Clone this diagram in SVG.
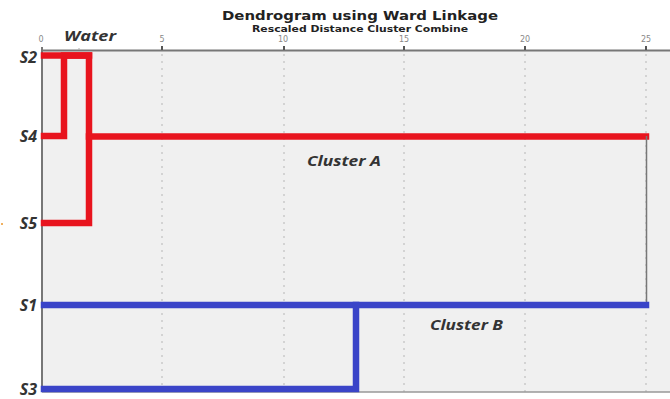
<svg xmlns="http://www.w3.org/2000/svg" width="670" height="399" viewBox="0 0 670 399">
  <style>
    .title { font-family: "DejaVu Sans", "Liberation Sans", sans-serif; font-weight: bold; fill: #222; }
    .tick { font-family: "DejaVu Sans", sans-serif; font-size: 8px; fill: #888; text-anchor: middle; }
    .lbl { font-family: "Open Sans", "Liberation Sans", sans-serif; font-weight: bold; font-style: italic; font-size: 14px; fill: #333; }
    .leaf { text-anchor: end; font-size: 16px; }
    .grid { stroke: #c4c4c4; stroke-width: 1.3; stroke-dasharray: 2 5; }
    .red { fill: none; stroke: #e8141e; stroke-width: 6.5; stroke-linejoin: miter; stroke-linecap: square; }
    .blue { fill: none; stroke: #3a44c8; stroke-width: 6.5; stroke-linejoin: miter; stroke-linecap: square; }
  </style>

  <rect width="670" height="399" fill="#ffffff"/>
  <!-- plot area -->
  <rect x="42" y="50" width="628" height="342" fill="#f0f0f0"/>

  <!-- gridlines -->
  <g id="grid">
    <line class="grid" x1="162" y1="54" x2="162" y2="392"/>
    <line class="grid" x1="284" y1="54" x2="284" y2="392"/>
    <line class="grid" x1="404" y1="54" x2="404" y2="392"/>
    <line class="grid" x1="525" y1="54" x2="525" y2="392"/>
    <line class="grid" x1="646" y1="54" x2="646" y2="392"/>
  </g>

  <!-- axes -->
  <g id="axes" stroke="#777" stroke-width="2">
    <line x1="42" y1="50.5" x2="670" y2="50.5"/>
    <line x1="42" y1="47" x2="42" y2="392"/>
    <line x1="42" y1="392" x2="670" y2="392" stroke="#999" stroke-width="1.5"/>
    <line x1="162" y1="46" x2="162" y2="50" stroke="#555"/>
    <line x1="284" y1="46" x2="284" y2="50" stroke="#555"/>
    <line x1="404" y1="46" x2="404" y2="50" stroke="#555"/>
    <line x1="525" y1="46" x2="525" y2="50" stroke="#555"/>
    <line x1="646" y1="46" x2="646" y2="50" stroke="#555"/>
    <line x1="79" y1="48" x2="79" y2="50" stroke="#aaa" stroke-width="1"/>
  </g>
  <g id="tick-labels">
    <text class="tick" x="41" y="42">0</text>
    <text class="tick" x="162" y="42">5</text>
    <text class="tick" x="283" y="42">10</text>
    <text class="tick" x="404" y="42">15</text>
    <text class="tick" x="525" y="42">20</text>
    <text class="tick" x="646" y="42">25</text>
  </g>

  <!-- titles -->
  <text class="title" x="360" y="20" font-size="12.5" text-anchor="middle" textLength="276" lengthAdjust="spacingAndGlyphs">Dendrogram using Ward Linkage</text>
  <text class="title" x="360" y="32" font-size="8" text-anchor="middle" textLength="216" lengthAdjust="spacingAndGlyphs">Rescaled Distance Cluster Combine</text>

  <!-- connectors -->
  <g id="connectors">
    <polyline class="red" points="44,136 64,136 64,55.5 89,55.5"/>
    <polyline class="red" points="44,55.5 89,55.5 89,223 44,223"/>
    <line class="red" x1="89" y1="136.5" x2="646" y2="136.5" stroke-linecap="butt"/>
    <line x1="646.5" y1="136" x2="646.5" y2="305" stroke="#777" stroke-width="1.5"/>
    <line class="blue" x1="44" y1="305" x2="646" y2="305" stroke-linecap="butt"/>
    <polyline class="blue" points="356,305 356,389 44,389"/>
  </g>

  <!-- leaves -->
  <g id="node-S2"><text class="lbl leaf" x="37" y="63">S2</text></g>
  <g id="node-S4"><text class="lbl leaf" x="37" y="142">S4</text></g>
  <g id="node-S5"><text class="lbl leaf" x="37" y="229">S5</text></g>
  <g id="node-S1"><text class="lbl leaf" x="37" y="311">S1</text></g>
  <g id="node-S3"><text class="lbl leaf" x="37" y="395">S3</text></g>

  <!-- annotations -->
  <g id="label-water"><text class="lbl" x="64" y="41" font-size="17" textLength="52" lengthAdjust="spacingAndGlyphs">Water</text></g>
  <g id="label-cluster-a"><text class="lbl" x="307" y="166" textLength="74" lengthAdjust="spacingAndGlyphs">Cluster A</text></g>
  <g id="label-cluster-b"><text class="lbl" x="430" y="330" textLength="73" lengthAdjust="spacingAndGlyphs">Cluster B</text></g>

  <rect x="1" y="223" width="2" height="2" fill="#f0b060"/>
</svg>
